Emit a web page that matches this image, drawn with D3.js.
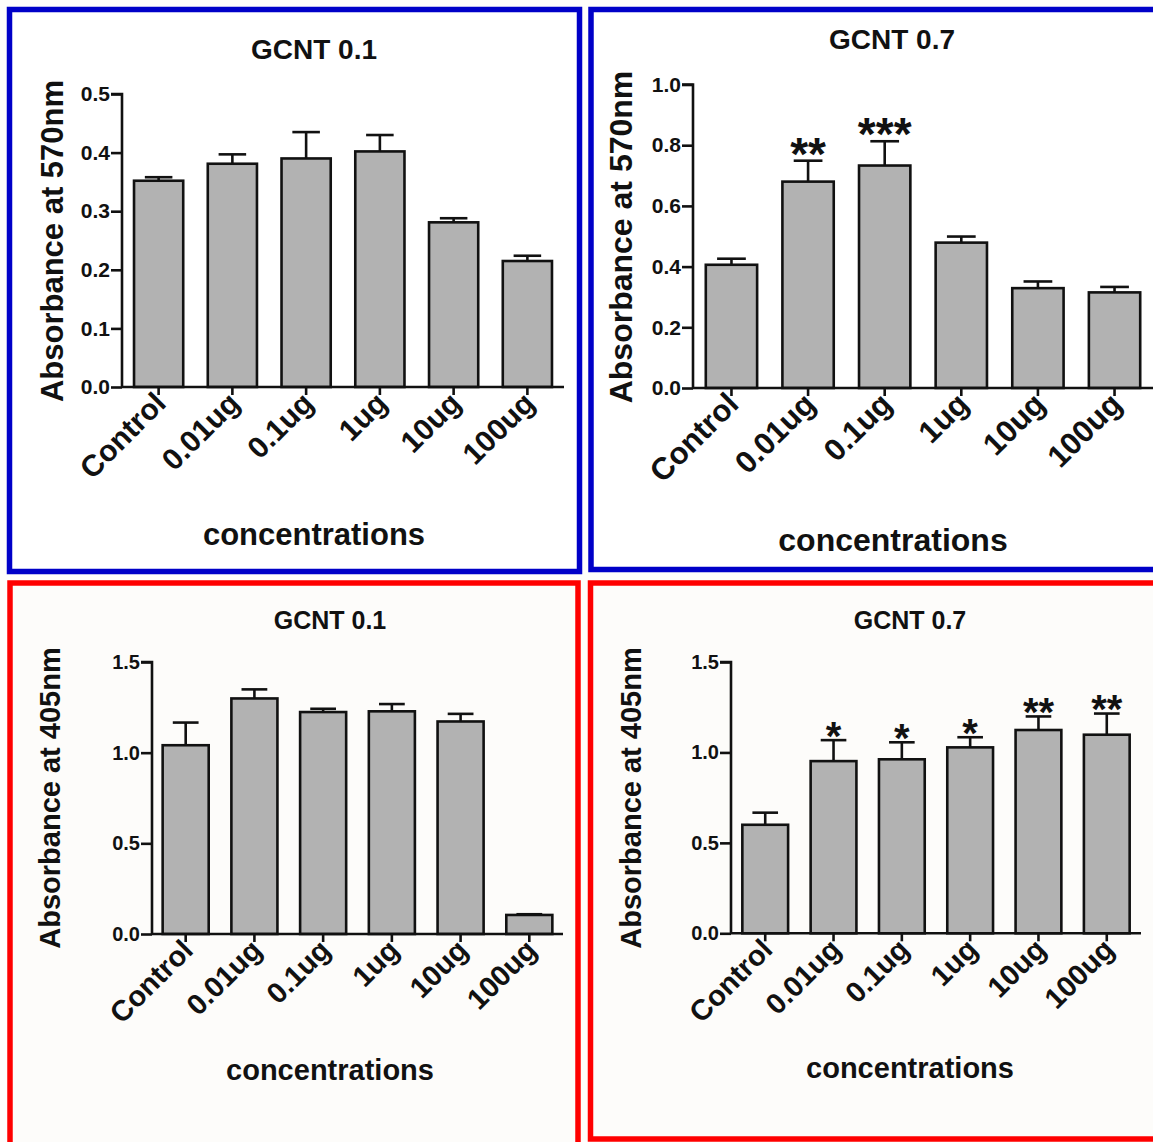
<!DOCTYPE html>
<html>
<head>
<meta charset="utf-8">
<script src="https://cdn.jsdelivr.net/npm/d3@7"></script>
<style>
  html, body { margin: 0; padding: 0; background: #fefdfb; }
  svg { display: block; }
  text { font-family: "Liberation Sans", Arial, Helvetica, sans-serif; font-weight: bold; fill: #111; }
</style>
</head>
<body>
<svg id="chart" width="1153" height="1142"></svg>
<script>
// ---------------- DATA ----------------
const categories = ["Control", "0.01ug", "0.1ug", "1ug", "10ug", "100ug"];

const gcnt01_570_values = [0.352, 0.381, 0.390, 0.402, 0.281, 0.215];
const gcnt01_570_errors = [0.006, 0.016, 0.045, 0.028, 0.007, 0.009];
const gcnt01_570_stars  = ["", "", "", "", "", ""];
const ticks570a = [0.0, 0.1, 0.2, 0.3, 0.4, 0.5];

const gcnt07_570_values = [0.406, 0.680, 0.733, 0.479, 0.329, 0.315];
const gcnt07_570_errors = [0.020, 0.069, 0.080, 0.020, 0.022, 0.018];
const gcnt07_570_stars  = ["", "**", "***", "", "", ""];
const ticks570b = [0.0, 0.2, 0.4, 0.6, 0.8, 1.0];

const gcnt01_405_values = [1.041, 1.299, 1.224, 1.228, 1.172, 0.105];
const gcnt01_405_errors = [0.125, 0.050, 0.018, 0.040, 0.042, 0.004];
const gcnt01_405_stars  = ["", "", "", "", "", ""];
const ticks405 = [0.0, 0.5, 1.0, 1.5];

const gcnt07_405_values = [0.600, 0.952, 0.962, 1.028, 1.124, 1.098];
const gcnt07_405_errors = [0.067, 0.116, 0.094, 0.056, 0.075, 0.117];
const gcnt07_405_stars  = ["", "*", "*", "*", "**", "**"];

const titles = ["GCNT 0.1", "GCNT 0.7", "GCNT 0.1", "GCNT 0.7"];
const yLabels = ["Absorbance at 570nm", "Absorbance at 570nm", "Absorbance at 405nm", "Absorbance at 405nm"];
const xLabel = "concentrations";

// ---------------- LAYOUT ----------------
const panels = [
  { values: gcnt01_570_values, errors: gcnt01_570_errors, stars: gcnt01_570_stars, ticks: ticks570a,
    title: titles[0], yLabel: yLabels[0], border: "#0000c8", bg: "#ffffff",
    box: [9.5, 9.5, 570, 562], x0: 122, x1: 564, yBottom: 387, yTop: 94,
    pIn: 0.333, pOut: 0.163,
    titleX: 314, titleY: 59, titleFs: 28,
    yLabX: 63, yLabY: 241, yLabFs: 31,
    xLabX: 314, xLabY: 545, xLabFs: 31,
    tickFs: 21, catFs: 30, starFs: 44, starGap: 4 },
  { values: gcnt07_570_values, errors: gcnt07_570_errors, stars: gcnt07_570_stars, ticks: ticks570b,
    title: titles[1], yLabel: yLabels[1], border: "#0000c8", bg: "#ffffff",
    box: [591, 9.5, 570, 560], x0: 693, x1: 1153, yBottom: 388, yTop: 84.5,
    pIn: 0.33, pOut: 0.167, axisEnd: 1153,
    titleX: 892, titleY: 49, titleFs: 28,
    yLabX: 632, yLabY: 237, yLabFs: 32,
    xLabX: 893, xLabY: 551, xLabFs: 32,
    tickFs: 21, catFs: 31, starFs: 46, starGap: 2 },
  { values: gcnt01_405_values, errors: gcnt01_405_errors, stars: gcnt01_405_stars, ticks: ticks405,
    title: titles[2], yLabel: yLabels[2], border: "#ff0000", bg: "#fdfcfa",
    box: [10, 583, 568, 570], x0: 152, x1: 563, yBottom: 934, yTop: 662,
    pIn: 0.33, pOut: 0.155,
    titleX: 330, titleY: 629, titleFs: 25,
    yLabX: 60, yLabY: 798, yLabFs: 29,
    xLabX: 330, xLabY: 1080, xLabFs: 29,
    tickFs: 20, catFs: 29, starFs: 40, starGap: 1 },
  { values: gcnt07_405_values, errors: gcnt07_405_errors, stars: gcnt07_405_stars, ticks: ticks405,
    title: titles[3], yLabel: yLabels[3], border: "#ff0000", bg: "#fdfcfa",
    box: [590.5, 583, 570, 556], x0: 731, x1: 1141, yBottom: 933.3, yTop: 662,
    pIn: 0.33, pOut: 0.166,
    titleX: 910, titleY: 629, titleFs: 25,
    yLabX: 641, yLabY: 798, yLabFs: 29,
    xLabX: 910, xLabY: 1078, xLabFs: 29,
    tickFs: 20, catFs: 29, starFs: 40, starGap: 0 }
];

const svg = d3.select("#chart");
const fmt = d3.format(".1f");

panels.forEach(p => {
  const g = svg.append("g");

  // panel frame
  g.append("rect")
    .attr("x", p.box[0]).attr("y", p.box[1])
    .attr("width", p.box[2]).attr("height", p.box[3])
    .attr("fill", p.bg).attr("stroke", p.border).attr("stroke-width", 5.5);

  const yMax = p.ticks[p.ticks.length - 1];
  const y = d3.scaleLinear().domain([0, yMax]).range([p.yBottom, p.yTop]);
  const x = d3.scaleBand().domain(categories).range([p.x0, p.x1])
    .paddingInner(p.pIn).paddingOuter(p.pOut);
  if (p.axisEnd) {
    const step = (p.x1 - p.x0) / (categories.length - p.pIn + 2 * p.pOut);
    x.range([p.x0, p.x0 + step * (categories.length - p.pIn + 2 * p.pOut)]);
  }

  const data = categories.map((c, i) => ({ c, v: p.values[i], e: p.errors[i], s: p.stars[i] }));

  // error bars (upward only)
  const capW = x.bandwidth() * 0.56;
  const eb = g.append("g").attr("stroke", "#111").attr("stroke-width", 2.6).attr("fill", "none");
  data.forEach(d => {
    const cx = x(d.c) + x.bandwidth() / 2;
    eb.append("line").attr("x1", cx).attr("x2", cx).attr("y1", y(d.v)).attr("y2", y(d.v + d.e));
    eb.append("line").attr("x1", cx - capW / 2).attr("x2", cx + capW / 2)
      .attr("y1", y(d.v + d.e)).attr("y2", y(d.v + d.e));
  });

  // bars
  g.append("g").selectAll("rect").data(data).join("rect")
    .attr("x", d => x(d.c))
    .attr("y", d => y(d.v))
    .attr("width", x.bandwidth())
    .attr("height", d => y(0) - y(d.v))
    .attr("fill", "#b2b2b2")
    .attr("stroke", "#111")
    .attr("stroke-width", 2.6);

  // significance stars, sitting just above the error-bar cap
  g.append("g").selectAll("text").data(data.filter(d => d.s)).join("text")
    .attr("x", d => x(d.c) + x.bandwidth() / 2)
    .attr("y", d => y(d.v + d.e) - p.starGap + p.starFs * 0.24)
    .attr("text-anchor", "middle")
    .attr("font-size", p.starFs)
    .text(d => d.s);

  // y axis
  const yAxis = d3.axisLeft(y).tickValues(p.ticks).tickFormat(fmt).tickSize(11).tickPadding(1);
  const ya = g.append("g").attr("transform", `translate(${p.x0},0)`).call(yAxis);
  ya.select(".domain").attr("stroke", "#111").attr("stroke-width", 2.6)
    .attr("d", `M-11,${p.yTop}H0V${p.yBottom}`);
  ya.selectAll(".tick line").attr("stroke", "#111").attr("stroke-width", 2.6);
  ya.selectAll(".tick text").attr("font-size", p.tickFs).attr("fill", "#111")
    .attr("font-family", "'Liberation Sans', Arial, sans-serif").attr("font-weight", "bold");

  // x axis
  const xAxis = d3.axisBottom(x).tickSize(8).tickFormat("");
  const xa = g.append("g").attr("transform", `translate(0,${p.yBottom})`).call(xAxis);
  const endX = p.axisEnd ? p.axisEnd : p.x1;
  xa.select(".domain").attr("stroke", "#111").attr("stroke-width", 2.6)
    .attr("d", `M${p.x0},0H${endX}`);
  xa.selectAll(".tick line").attr("stroke", "#111").attr("stroke-width", 2.6);

  // rotated category labels
  g.append("g").selectAll("text").data(categories).join("text")
    .attr("transform", c => `translate(${x(c) + x.bandwidth() / 2 + 9},${p.yBottom + 18}) rotate(-45)`)
    .attr("text-anchor", "end")
    .attr("font-size", p.catFs)
    .text(c => c);

  // title
  g.append("text").attr("x", p.titleX).attr("y", p.titleY)
    .attr("text-anchor", "middle").attr("font-size", p.titleFs).text(p.title);

  // y label
  g.append("text")
    .attr("transform", `translate(${p.yLabX},${p.yLabY}) rotate(-90)`)
    .attr("text-anchor", "middle").attr("font-size", p.yLabFs).text(p.yLabel);

  // x label
  g.append("text").attr("x", p.xLabX).attr("y", p.xLabY)
    .attr("text-anchor", "middle").attr("font-size", p.xLabFs).text(xLabel);
});
</script>
</body>
</html>
